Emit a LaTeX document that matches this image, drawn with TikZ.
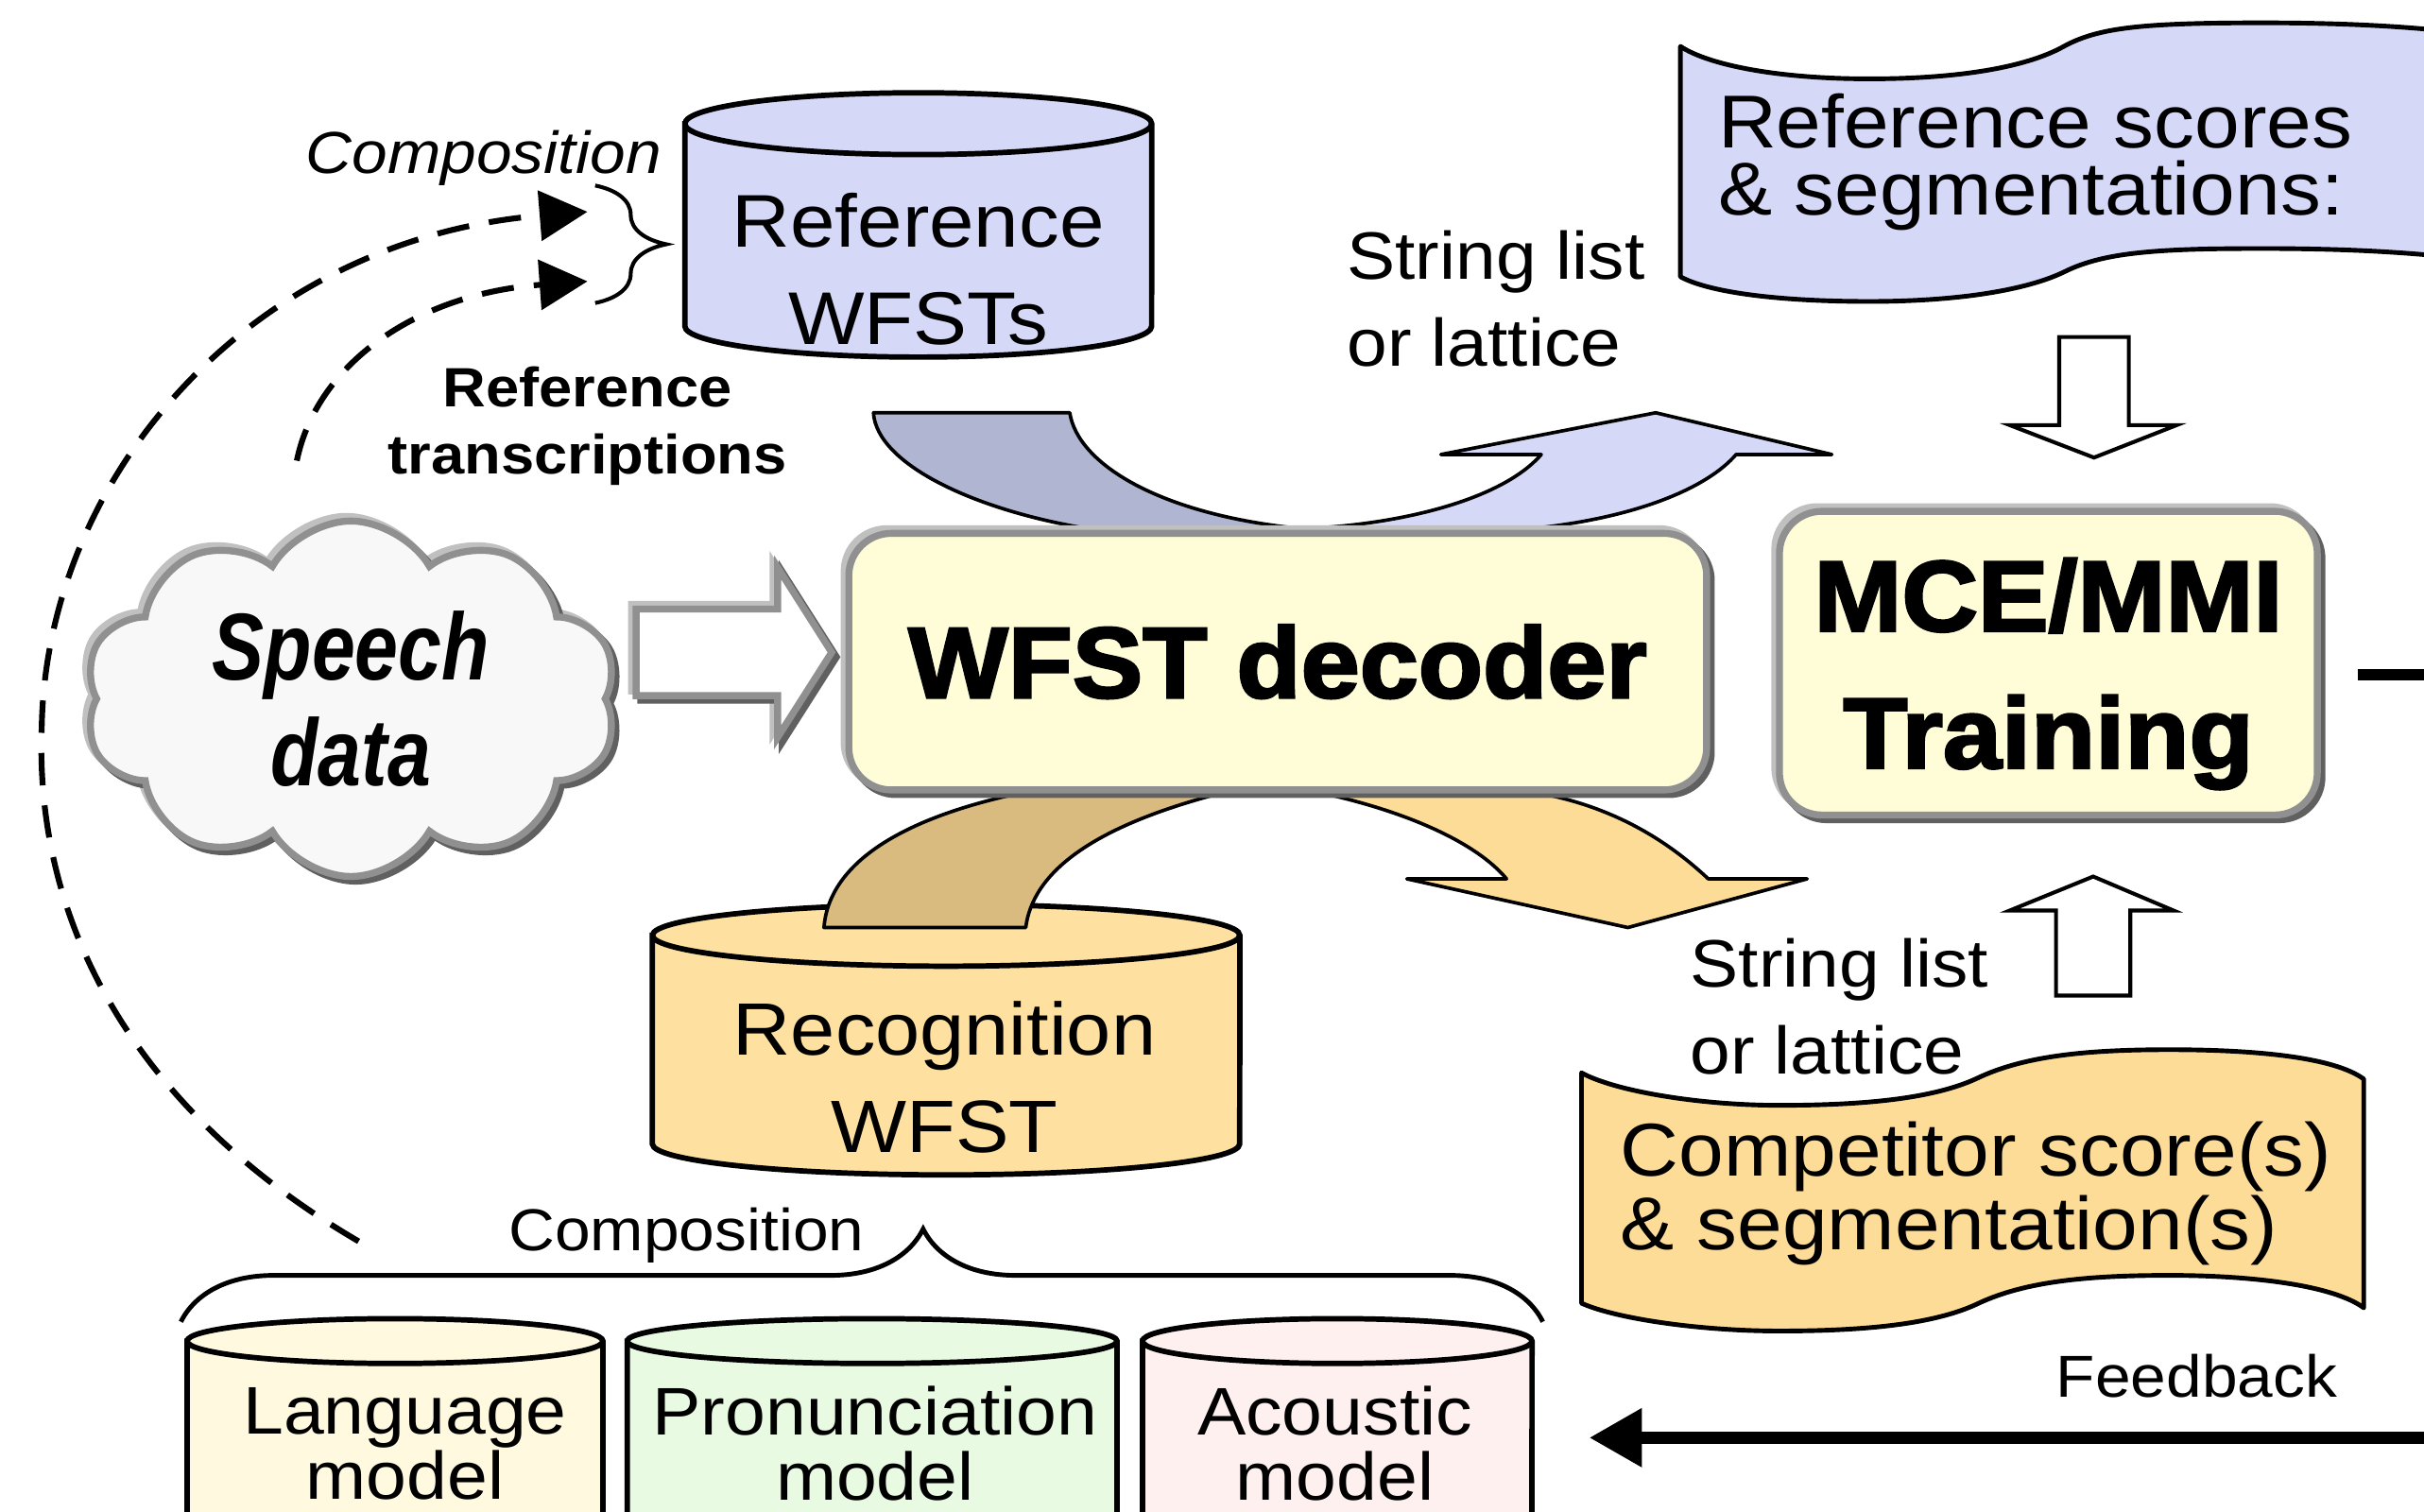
\documentclass[tikz,border=0pt]{standalone}
\usepackage{fontspec}
\setmainfont{Liberation Sans}[FakeStretch=1.08]
\newfontfamily\narrowfont{Liberation Sans}[FakeStretch=0.82]
\newfontfamily\heavyfont{Liberation Sans Bold}[FakeStretch=1.05,FakeBold=2.5]
\usetikzlibrary{positioning,shadows,shapes.symbols,arrows.meta,decorations.pathreplacing}

\definecolor{refblue}{HTML}{D6D8F8}
\definecolor{ribbonblue}{HTML}{B0B5D2}
\definecolor{recorange}{HTML}{FEE0A0}
\definecolor{ribbonorange}{HTML}{FDDC98}
\definecolor{ribbontan}{HTML}{D9BB80}
\definecolor{boxfill}{HTML}{FFFDD8}
\definecolor{cloudfill}{HTML}{F8F8F8}
\definecolor{lmfill}{HTML}{FFF9E0}
\definecolor{pmfill}{HTML}{E8FBE2}
\definecolor{amfill}{HTML}{FFF0F0}
\definecolor{bevlight}{HTML}{C0C0C0}
\definecolor{bevmid}{HTML}{909090}
\definecolor{bevdark}{HTML}{606060}

\newcommand{\setfs}[2]{\fontsize{#1}{#2}\selectfont}
% database drum: fill, left, right, top y, bottom y, x radius, y radius
\newcommand{\dbcyl}[7]{%
  \draw[dbline, fill=#1] (#2,#4) -- (#2,#5)
    arc[start angle=180, end angle=360, x radius=#6, y radius=#7] -- (#3,#4)
    arc[start angle=0, end angle=180, x radius=#6, y radius=#7] -- cycle;
  \draw[dbline] (#2,#4) arc[start angle=180, end angle=360, x radius=#6, y radius=#7];}

\tikzset{
  bevel/.style={draw=bevmid, line width=.09cm,
    general shadow={shadow xshift=-.06cm, shadow yshift=.06cm, draw=bevlight, line width=.09cm},
    general shadow={shadow xshift=.06cm, shadow yshift=-.06cm, draw=bevdark, line width=.09cm}},
  procbox/.style={rectangle, rounded corners=.55cm, fill=boxfill, bevel, align=center,
    inner sep=0pt, font=\heavyfont\setfs{37}{50.5}},
  dbline/.style={draw, line width=.07cm},
  dbtext/.style={align=center, inner sep=0pt},
  tape/.style={draw, line width=.06cm, line join=round},
  ribbon/.style={draw, line width=.045cm, line join=round},
  openarrow/.style={draw, fill=white, line width=.05cm, line join=miter},
  dasharrow/.style={line width=.075cm, dash pattern=on .42cm off .26cm,
    -{Triangle[length=.62cm,width=.64cm]}},
  curly/.style={decorate, decoration={brace, amplitude=#1}, line width=.05cm},
  fbarrow/.style={line width=.16cm, -{Triangle[length=.68cm,width=.72cm]}},
}

\begin{document}
\begin{tikzpicture}[x=0.02cm, y=-0.02cm]
\useasboundingbox (0,0) rectangle (1568,978);
\clip (0,0) rectangle (1568,978);

% composition of the reference WFSTs
\coordinate (lmstart) at (232,803);
\coordinate (rtstart) at (192,298);
\coordinate (compa) at (380,137);
\coordinate (compb) at (380,182);
\draw[dasharrow] (lmstart) .. controls (90,720) and (22,600) .. (27,470)
  .. controls (30,310) and (160,155) .. (compa);
\draw[dasharrow] (rtstart) .. controls (205,235) and (270,190) .. (compb);
\draw[curly=.92cm] (385,120) -- (385,196);
\node[anchor=base east, font=\itshape\setfs{21.8}{26}] (comptop) at (434,112) {Composition};
\node[anchor=north, align=center, inner sep=0pt, font=\bfseries\setfs{20.4}{24.6}] (reftrans)
  at (380,237) {Reference\\transcriptions};

\dbcyl{refblue}{443}{745}{80}{211}{3.02cm}{.4cm}
\node[dbtext, font=\setfs{27.5}{36}] (refwtxt) at (594,174) {Reference\\WFSTs};

% reference scores
\draw[tape, fill=refblue] (1087,30) .. controls (1105,42) and (1150,51) .. (1209,51)
  .. controls (1265,51) and (1310,44) .. (1335,30) .. controls (1355,19) and (1380,16) .. (1430,15)
  .. controls (1500,14) and (1550,16) .. (1600,22) -- (1600,168)
  .. controls (1550,162) and (1500,160) .. (1430,161) .. controls (1380,162) and (1355,166) .. (1335,176)
  .. controls (1310,188) and (1265,195) .. (1209,195) .. controls (1150,195) and (1105,189) .. (1087,179) -- cycle;
\node[anchor=north west, align=left, inner sep=0pt, font=\setfs{27.6}{25}] (refscore)
  at (1111,60) {Reference scores\\\& segmentations:};
\node[anchor=north west, align=left, inner sep=0pt, font=\setfs{24.7}{31.9}] (strtop)
  at (871,149) {String list\\or lattice};

% upper ribbon
\draw[ribbon, fill=ribbonblue] (565,267) -- (692,267) .. controls (697,300) and (750,333) .. (842,342)
  -- (842,370) -- (720,370) -- (704,342) .. controls (630,330) and (567,300) .. (565,267) -- cycle;
\draw[ribbon, fill=refblue] (842,342) .. controls (900,340) and (970,325) .. (997,294) -- (932,294)
  -- (1071,267) -- (1185,294) -- (1123,294) .. controls (1105,315) and (1060,335) .. (990,342)
  -- (990,370) -- (842,370) -- cycle;

% recognition WFST and lower ribbon
\dbcyl{recorange}{422}{802}{605}{740}{3.8cm}{.4cm}
\node[dbtext, font=\setfs{27.3}{35.7}] (recwtxt) at (611,697) {Recognition\\WFST};
\draw[ribbon, fill=ribbontan] (533,600) -- (663.5,600) .. controls (668,565) and (705,535) .. (790,513)
  -- (790,495) -- (660,495) -- (660,513) .. controls (580,530) and (536,560) .. (533,600) -- cycle;
\draw[ribbon, fill=ribbonorange] (855,513) .. controls (910,525) and (955,545) .. (974.5,568.5)
  -- (910,568.5) -- (1053,600) -- (1169,568.5) -- (1105,568.5) .. controls (1080,545) and (1045,522) .. (995,513)
  -- (995,495) -- (855,495) -- cycle;

% decoder, training, speech
\node[procbox, minimum width=11.1cm, minimum height=3.32cm] (dec) at (826.5,428) {WFST decoder};
\node[procbox, minimum width=6.96cm, minimum height=3.93cm, text depth=0pt] (mce) at (1325,429) {MCE/MMI\\Training};
\node[cloud, cloud puffs=10, cloud puff arc=120, aspect=1.5, minimum width=6.9cm, minimum height=4.6cm,
  fill=cloudfill, bevel, align=center, inner sep=0pt,
  font=\narrowfont\bfseries\itshape\setfs{35}{39}] (speech) at (227,452) {Speech\\data};
\draw[bevel, fill=white, line join=miter] (411.5,394) -- (503,394) -- (503,367) -- (538,422)
  -- (503,477) -- (503,450) -- (411.5,450) -- cycle;

\draw[openarrow] (1332,218) -- (1377,218) -- (1377,275) -- (1408,275) -- (1354.5,296) -- (1300,275) -- (1332,275) -- cycle;
\draw[openarrow] (1330,644) -- (1378,644) -- (1378,589) -- (1406,589) -- (1354,567) -- (1300,589) -- (1330,589) -- cycle;

% competitor scores
\draw[tape, fill=ribbonorange] (1023,694) .. controls (1045,706) and (1100,715) .. (1151,715)
  .. controls (1215,715) and (1255,709) .. (1280,697) .. controls (1310,683) and (1350,679) .. (1403,679)
  .. controls (1460,679) and (1510,684) .. (1529,698) -- (1529,846)
  .. controls (1510,832) and (1460,825) .. (1403,825) .. controls (1350,825) and (1310,829) .. (1280,843)
  .. controls (1255,855) and (1215,861) .. (1151,861) .. controls (1100,861) and (1045,853) .. (1023,843) -- cycle;
\node[anchor=north west, align=left, inner sep=0pt, font=\setfs{27.6}{27.2}] (compscore)
  at (1048,725) {Competitor score(s)\\\& segmentation(s)};
\node[anchor=north west, align=left, inner sep=0pt, font=\setfs{24.7}{31.9}] (strbot)
  at (1093,607) {String list\\or lattice};

% component models
\draw[decorate, decoration={brace, amplitude=1.2cm, aspect=.545}, line width=.06cm] (117,855) -- (998,855);
\node[anchor=base, font=\setfs{21.8}{26}] (compbot) at (444,809) {Composition};
\dbcyl{lmfill}{121}{390}{867.5}{1020}{2.69cm}{.29cm}
\dbcyl{pmfill}{405.7}{722.6}{867.5}{1020}{3.169cm}{.29cm}
\dbcyl{amfill}{739}{991}{867.5}{1020}{2.52cm}{.29cm}
\node[dbtext, font=\setfs{24.8}{24}] (lmtxt) at (262,934) {Language\\model};
\node[dbtext, font=\setfs{24.8}{24}] (pmtxt) at (566,934) {Pronunciation\\model};
\node[dbtext, font=\setfs{24.8}{24}] (amtxt) at (863.5,934) {Acoustic\\model};

% feedback
\coordinate (fbstart) at (1525,436.5);
\coordinate (fbout) at (1600,436.5);
\coordinate (fbin) at (1600,930);
\coordinate (fbtip) at (1028,930);
\draw[line width=.14cm] (fbstart) -- (fbout);
\draw[fbarrow] (fbin) -- (fbtip);
\node[anchor=base, font=\setfs{21.8}{26}] (fblabel) at (1421,904) {Feedback};
\end{tikzpicture}
\end{document}
